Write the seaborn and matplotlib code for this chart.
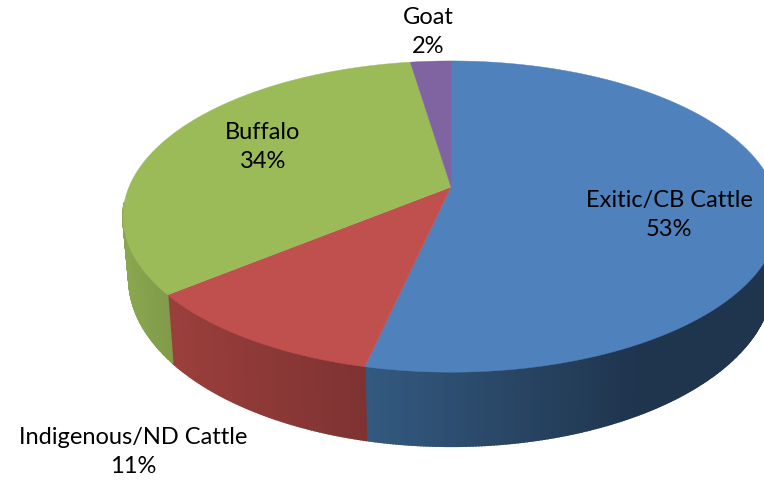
import numpy as np
import matplotlib
matplotlib.use("Agg")
import matplotlib.pyplot as plt
import seaborn as sns

# clockwise from 12 o'clock
names = ["Exitic/CB Cattle", "Indigenous/ND Cattle", "Buffalo", "Goat"]
values = [53.5, 10.6, 33.5, 2.4]
pct_labels = ["53%", "11%", "34%", "2%"]
top_colors = ["#4F81BD", "#C0504D", "#9BBB59", "#8064A2"]
# side wall shade, left end and right end
wall_colors = [
    ["#33597F", "#1F344D"],
    ["#9A3F3C", "#7D3232"],
    ["#8AA650", "#809A49"],
    ["#6A5388", "#5A4775"],
]
wall_ranges = [(367, 640), (170, 367), (125, 170), (413, 451)]
label_pos = [(669, 215), (133, 452), (263, 147), (428, 32)]

# pie geometry in picture pixels, tilted disc seen in perspective
apex_x, apex_y = 451, 187
rx, ry = 322, 150
persp = 0.19
depth = 60
shrink = 0.982  # bottom rim sits a little further away

sns.set_theme(style="white")
plt.rcParams["font.family"] = ["Lato", "DejaVu Sans"]


def rim(frac, drop=0.0, scale=1.0):
    ang = 2 * np.pi * np.asarray(frac)
    den = 1 + persp * np.cos(ang)
    x = apex_x + scale * rx * np.sin(ang) / den
    y = apex_y + (drop - ry * np.cos(ang)) / den
    return x, y


fig, ax = plt.subplots(figsize=(7.64, 4.84), dpi=100)
fig.subplots_adjust(0, 0, 1, 1)
ax.set_xlim(0, 764)
ax.set_ylim(484, 0)
ax.axis("off")

edges = np.cumsum([0] + values) / sum(values)

# side walls, one thin strip at a time so the shade can run left to right
for i in range(len(values)):
    pal = sns.blend_palette(wall_colors[i], 64)
    lo, hi = wall_ranges[i]
    steps = np.linspace(edges[i], edges[i + 1], max(int(values[i] * 8), 2))
    for f0, f1 in zip(steps[:-1], steps[1:]):
        if np.cos(2 * np.pi * (f0 + f1) / 2) > -0.1:
            continue
        x0, y0 = rim(f0)
        x1, y1 = rim(f1)
        x2, y2 = rim(f1, depth, shrink)
        x3, y3 = rim(f0, depth, shrink)
        t = np.clip(((x0 + x1) / 2 - lo) / (hi - lo), 0, 1)
        c = pal[int(t * 63)]
        ax.fill([x0, x1, x2, x3], [y0, y1, y2, y3], color=c, lw=1.2, zorder=2)

# top faces
for i in range(len(values)):
    fr = np.linspace(edges[i], edges[i + 1], 200)
    xs, ys = rim(fr)
    ax.fill(np.r_[apex_x, xs], np.r_[apex_y, ys], color=top_colors[i], lw=0.3, zorder=3)

for name, pct, (lx, ly) in zip(names, pct_labels, label_pos):
    ax.text(lx, ly, name + "\n" + pct, ha="center", va="center", fontsize=17,
            color="black", linespacing=1.48, zorder=5)

fig.savefig("out.png", dpi=100)
